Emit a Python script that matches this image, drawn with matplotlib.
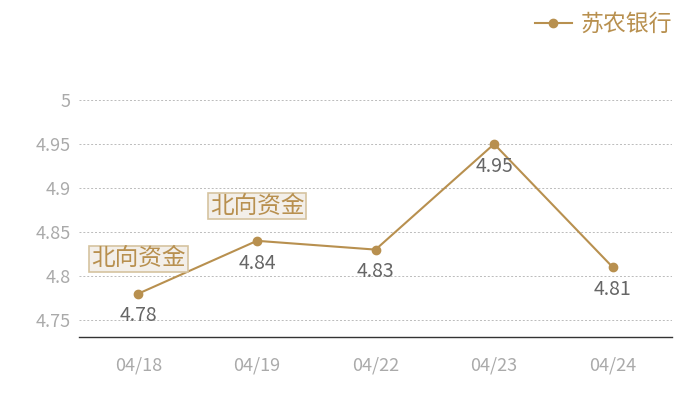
import matplotlib
matplotlib.use("Agg")
import matplotlib.pyplot as plt

plt.rcParams['font.family'] = ['Noto Sans CJK SC', 'DejaVu Sans']

## Data
dates = ["04/18", "04/19", "04/22", "04/23", "04/24"]
prices = [4.78, 4.84, 4.83, 4.95, 4.81]
series_name = "苏农银行"
marks = [0, 1]          # points tagged with the note
mark_text = "北向资金"
yticks = [4.75, 4.8, 4.85, 4.9, 4.95, 5]
ytick_labels = ["4.75", "4.8", "4.85", "4.9", "4.95", "5"]

gold = "#b8904f"

fig = plt.figure(figsize=(7, 4), dpi=100)
ax = fig.add_axes([0.113, 0.1575, 0.847, 0.5925])

x = range(len(dates))
ax.plot(x, prices, color=gold, lw=1.5, marker="o", ms=6, label=series_name)

for i, v in enumerate(prices):
    ax.annotate(f"{v:.2f}", (i, v), xytext=(0, -16), textcoords="offset points",
                ha="center", va="center", fontsize=14, color="#666666")

for i in marks:
    ax.annotate(mark_text, (i, prices[i]), xytext=(0, 25), textcoords="offset points",
                ha="center", va="center", fontsize=17, color=gold,
                bbox=dict(boxstyle="square,pad=0.08", fc="#f3efe9", ec="#d6c3a0", lw=1.2))

ax.set_xlim(-0.5, 4.5)
ax.set_ylim(4.7307, 5.0)
ax.set_xticks(list(x))
ax.set_xticklabels(dates)
ax.set_yticks(yticks)
ax.set_yticklabels(ytick_labels)
ax.tick_params(axis="both", length=0, colors="#aaaaaa", labelsize=13)
ax.tick_params(axis="x", pad=14)
ax.tick_params(axis="y", pad=6)
ax.grid(axis="y", color="#bbbbbb", ls=(0, (2, 2)), lw=0.7)
ax.set_axisbelow(True)
for s in ["top", "right", "left"]:
    ax.spines[s].set_visible(False)
ax.spines["bottom"].set_color("#333333")
ax.spines["bottom"].set_linewidth(1)

leg = fig.legend(loc="upper right", bbox_to_anchor=(0.99, 1.02), frameon=False,
                 fontsize=16.5, handlelength=1.6, handletextpad=0.4)
for t in leg.get_texts():
    t.set_color(gold)

fig.savefig("out.png", dpi=100)
